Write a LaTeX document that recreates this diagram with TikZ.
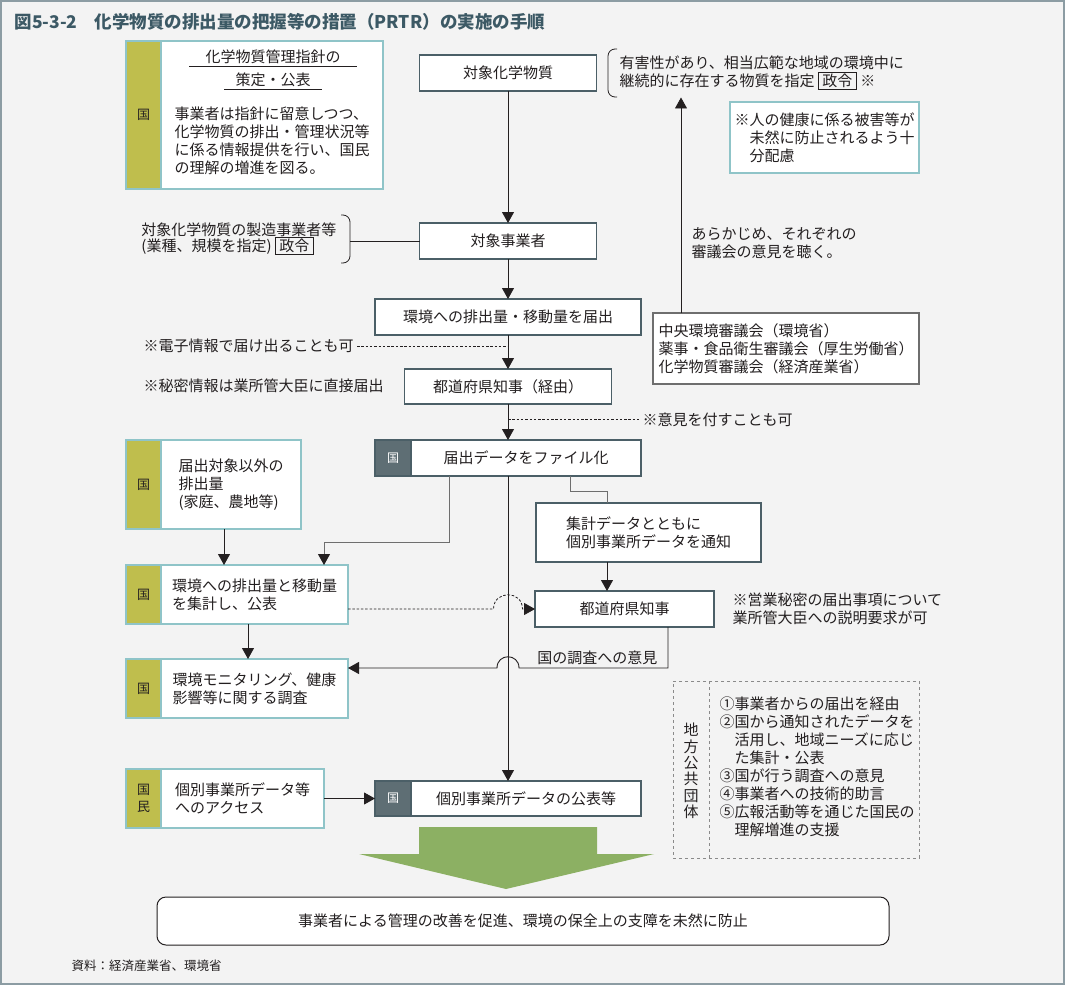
\documentclass[tikz,border=0pt]{standalone}
\usepackage{fontspec}
\setmainfont{Noto Sans CJK JP}
\usepackage{tikz}
\usetikzlibrary{graphs}
\usetikzlibrary{calc}
\usetikzlibrary{positioning}
\usetikzlibrary{arrows.meta}
\definecolor{bgpanel}{HTML}{F3F3F3}
\definecolor{framegray}{HTML}{8C9CA3}
\definecolor{kuniolive}{HTML}{BFBE4D}
\definecolor{kuniedge}{HTML}{8FC4C8}
\definecolor{boxedge}{HTML}{4B5F67}
\definecolor{slatetab}{HTML}{5E6E74}
\definecolor{inkdark}{HTML}{231F20}
\definecolor{linkgray}{HTML}{6E6E6E}
\definecolor{dashgray}{HTML}{8A8A8A}
\definecolor{arrowgreen}{HTML}{8CB063}
\definecolor{titleink}{HTML}{3C5965}
\newcommand{\govbox}[1]{{\setlength{\fboxsep}{1.2pt}\setlength{\fboxrule}{0.8pt}\fbox{\,#1\,}}}
\tikzset{
  txt/.style= {text=inkdark, font=\fontsize{15}{18}\selectfont},
  box/.style= {draw=boxedge, fill=white, line width=1.4, outer sep=0, minimum height=36},
  kunitab/.style= {draw=kuniedge, fill=kuniolive, line width=1.4, outer sep=0, minimum width=35, align=center, font=\fontsize{13}{17}\selectfont},
  kunibox/.style= {draw=kuniedge, fill=white, line width=1.4, outer sep=0, align=left},
  darktab/.style= {draw=boxedge, fill=slatetab, line width=1.4, outer sep=0, minimum width=36, minimum height=36, text=white, font=\fontsize{12}{14}\selectfont},
  link/.style= {linkgray, line width=1},
  hint/.style= {inkdark, line width=0.8, dash pattern=on 2.5pt off 1.8pt},
}

\begin{document}
\begin{tikzpicture}[x=1pt, y=-1pt, every node/.style={txt}, >={Triangle[width=12pt, length=11pt]}]
  \useasboundingbox (0,0) rectangle (1065,985) ;
  \draw [framegray, fill=bgpanel, line width=1.2] (1,1) rectangle (1064,984) ;
  \node [anchor=west, text=titleink, font=\fontsize{17.5}{20}\selectfont\bfseries] (title) at (11,22) {図5-3-2\hspace{1em}化学物質の排出量の把握等の措置（PRTR）の実施の手順} ;

  % central flow
  \node [box, minimum width=177] (chem) at (508,73) {対象化学物質} ;
  \node [box, minimum width=177] (firm) at (508,241) {対象事業者} ;
  \node [box, minimum width=266] (report) at (508,317) {環境への排出量・移動量を届出} ;
  \node [box, minimum width=207, minimum height=35] (prefvia) at (508,386.5) {都道府県知事（経由）} ;
  \node [box, minimum width=266] (filedata) at (508,458) {\hspace*{36pt}届出データをファイル化} ;
  \node [darktab, anchor=west] (filetab) at (filedata.west) {国} ;
  \node [box, minimum width=266, minimum height=35] (publish) at (508,798.5) {\hspace*{36pt}個別事業所データの公表等} ;
  \node [darktab, anchor=west, minimum height=35] (publishtab) at (publish.west) {国} ;
  \node [box, minimum width=225, minimum height=59, align=left] (notify) at (648.5,532.5) {集計データとともに\\個別事業所データを通知} ;
  \node [box, minimum width=179] (pref) at (624.5,609) {都道府県知事} ;
  \node [box, draw=linkgray, minimum width=266, minimum height=71, align=left] (council) at (786,348.5) {中央環境審議会（環境省）\\薬事・食品衛生審議会（厚生労働省）\\化学物質審議会（経済産業省）} ;
  \node [box, draw=kuniedge, minimum width=189, minimum height=71, align=left] (healthnote) at (824.5,137.5) {※人の健康に係る被害等が\\\hspace*{1em}未然に防止されるよう十\\\hspace*{1em}分配慮} ;

  % boxes of the state
  \node [kunitab, minimum height=148] (guidetab) at (143.5,115) {国} ;
  \node [kunibox, minimum width=222, minimum height=148, right=0pt of guidetab] (guide) {} ;
  \node [inner xsep=16, inner ysep=3] (guidehead) at (273,56.5) {化学物質管理指針の} ;
  \node [inner xsep=11, inner ysep=3] (guidesub) at (273,79.5) {策定・公表} ;
  \draw [inkdark, line width=0.6] (guidehead.south west) -- (guidehead.south east) ;
  \draw [inkdark, line width=0.6] (guidesub.south west) -- (guidesub.south east) ;
  \node [align=left] (guidetext) at (272,140.5) {事業者は指針に留意しつつ、\\化学物質の排出・管理状況等\\に係る情報提供を行い、国民\\の理解の増進を図る。} ;
  \node [kunitab, minimum height=89] (othertab) at (143.5,484.5) {国} ;
  \node [kunibox, minimum width=140, minimum height=89, right=0pt of othertab] (other) {届出対象以外の\\排出量\\(家庭、農地等)} ;
  \node [kunitab, minimum height=59] (aggregatetab) at (143.5,594.5) {国} ;
  \node [kunibox, minimum width=187, minimum height=59, right=0pt of aggregatetab] (aggregate) {環境への排出量と移動量\\を集計し、公表} ;
  \node [kunitab, minimum height=59] (monitortab) at (143.5,688.5) {国} ;
  \node [kunibox, minimum width=187, minimum height=59, right=0pt of monitortab] (monitor) {環境モニタリング、健康\\影響等に関する調査} ;
  \node [kunitab, minimum height=59] (accesstab) at (143.5,798.5) {国\\民} ;
  \node [kunibox, minimum width=163, minimum height=59, right=0pt of accesstab] (access) {個別事業所データ等\\へのアクセス} ;

  % side notes
  \node [align=left, anchor=west] (design) at (616,73) {有害性があり、相当広範な地域の環境中に\\継続的に存在する物質を指定 \govbox{政令} ※} ;
  \draw [inkdark, line width=0.8, rounded corners=7] (617,49) -| (608,97) -- (617,97) ;
  \node [align=left, anchor=east, font=\fontsize{15}{16}\selectfont] (maker) at (340,239) {対象化学物質の製造事業者等\\(業種、規模を指定) \govbox{政令}} ;
  \draw [inkdark, line width=0.8, rounded corners=7] (341,215) -| (350,263) -- (341,263) ;
  \coordinate (makertip) at (350,239) ;
  \node [align=left, anchor=west] (advance) at (688,243.5) {あらかじめ、それぞれの\\審議会の意見を聴く。} ;
  \node [anchor=west] (elabel) at (140,346) {※電子情報で届け出ることも可} ;
  \node [anchor=west] (secretlabel) at (140,386) {※秘密情報は業所管大臣に直接届出} ;
  \node [anchor=west] (olabel) at (639,419.5) {※意見を付すことも可} ;
  \node [align=left, anchor=west] (bizsecret) at (729,608.5) {※営業秘密の届出事項について\\業所管大臣への説明要求が可} ;

  % local governments
  \node [draw=dashgray, dashed, line width=0.9, outer sep=0, minimum width=246, minimum height=177] (local) at (796,769.5) {} ;
  \draw [dashgray, dashed, line width=0.9] ([xshift=36pt]local.north west) -- ([xshift=36pt]local.south west) ;
  \node [align=center, font=\fontsize{15}{16.4}\selectfont] (localname) at (691,771) {地\\方\\公\\共\\団\\体} ;
  \node [align=left, anchor=west] (localroles) at (716,767) {①事業者からの届出を経由\\②国から通知されたデータを\\\hspace*{1em}活用し、地域ニーズに応じ\\\hspace*{1em}た集計・公表\\③国が行う調査への意見\\④事業者への技術的助言\\⑤広報活動等を通じた国民の\\\hspace*{1em}理解増進の支援} ;

  % connectors
  \graph [edges={inkdark, line width=0.9}] {
    (chem) -> (firm) -> (report) -> (prefvia) -> (filedata) -> (publish) ;
    (access) -> (publish) ;
  } ;
  \draw [inkdark, line width=0.9] (makertip |- firm.west) -- (firm.west) ;
  \draw [hint] (elabel.east) -- (elabel.east -| report.south) ;
  \draw [hint] (olabel.west -| prefvia.south) -- (olabel.west) ;
  \draw [->, inkdark, line width=0.9] ([xshift=-105pt]council.north) -- ($(council.north |- design.south)+(-105,4)$) ;
  \draw [-{Triangle[width=12pt, length=11pt, color=inkdark, fill=inkdark]}, link] ([xshift=-58.5pt]filedata.south) -- ++(0,66) -| ([xshift=69.5pt]aggregate.north) ;
  \draw [link] ([xshift=62pt]filedata.south) -- ++(0,15) -| ([xshift=-41.5pt]notify.north) ;
  \draw [->, inkdark, line width=0.9] ([xshift=-41.5pt]notify.south) -- ([xshift=-41.5pt]notify.south |- pref.north) ;
  \draw [->, inkdark, line width=0.9] ([xshift=-7pt]other.south) -- ([xshift=-7pt]other.south |- aggregate.north) ;
  \draw [->, inkdark, line width=0.9] ([xshift=-6.5pt]aggregate.south) -- ([xshift=-6.5pt]aggregate.south |- monitor.north) ;
  \coordinate (crossA) at (filedata.south |- pref.west) ;
  \draw [->, hint] (aggregate.east |- pref.west) -- ([xshift=-14.5pt]crossA) .. controls +(0,-19) and +(0,-19) .. ([xshift=14.5pt]crossA) -- (pref.west) ;
  \coordinate (crossB) at ($(filedata.south |- monitor.north)+(0,9)$) ;
  \draw [->, inkdark, line width=0.9] ([xshift=43.5pt]pref.south) |- ([xshift=11pt]crossB) .. controls +(0,-15) and +(0,-15) .. ([xshift=-11pt]crossB) -- (monitor.east |- crossB) ;
  \node [anchor=south east] (opinion) at ($(crossB)+(153,0)$) {国の調査への意見} ;

  % result
  \fill [arrowgreen] (419,827) -- (597,827) -- (597,854) -- (654,854) -- (506,889) -- (359,854) -- (419,854) -- cycle ;
  \node [draw=inkdark, fill=white, line width=1, rounded corners=9, minimum width=732, minimum height=48] (goal) at (523,921) {事業者による管理の改善を促進、環境の保全上の支障を未然に防止} ;
  \node [anchor=west, font=\fontsize{12.5}{15}\selectfont] (source) at (68,966) {資料：経済産業省、環境省} ;
\end{tikzpicture}
\end{document}
